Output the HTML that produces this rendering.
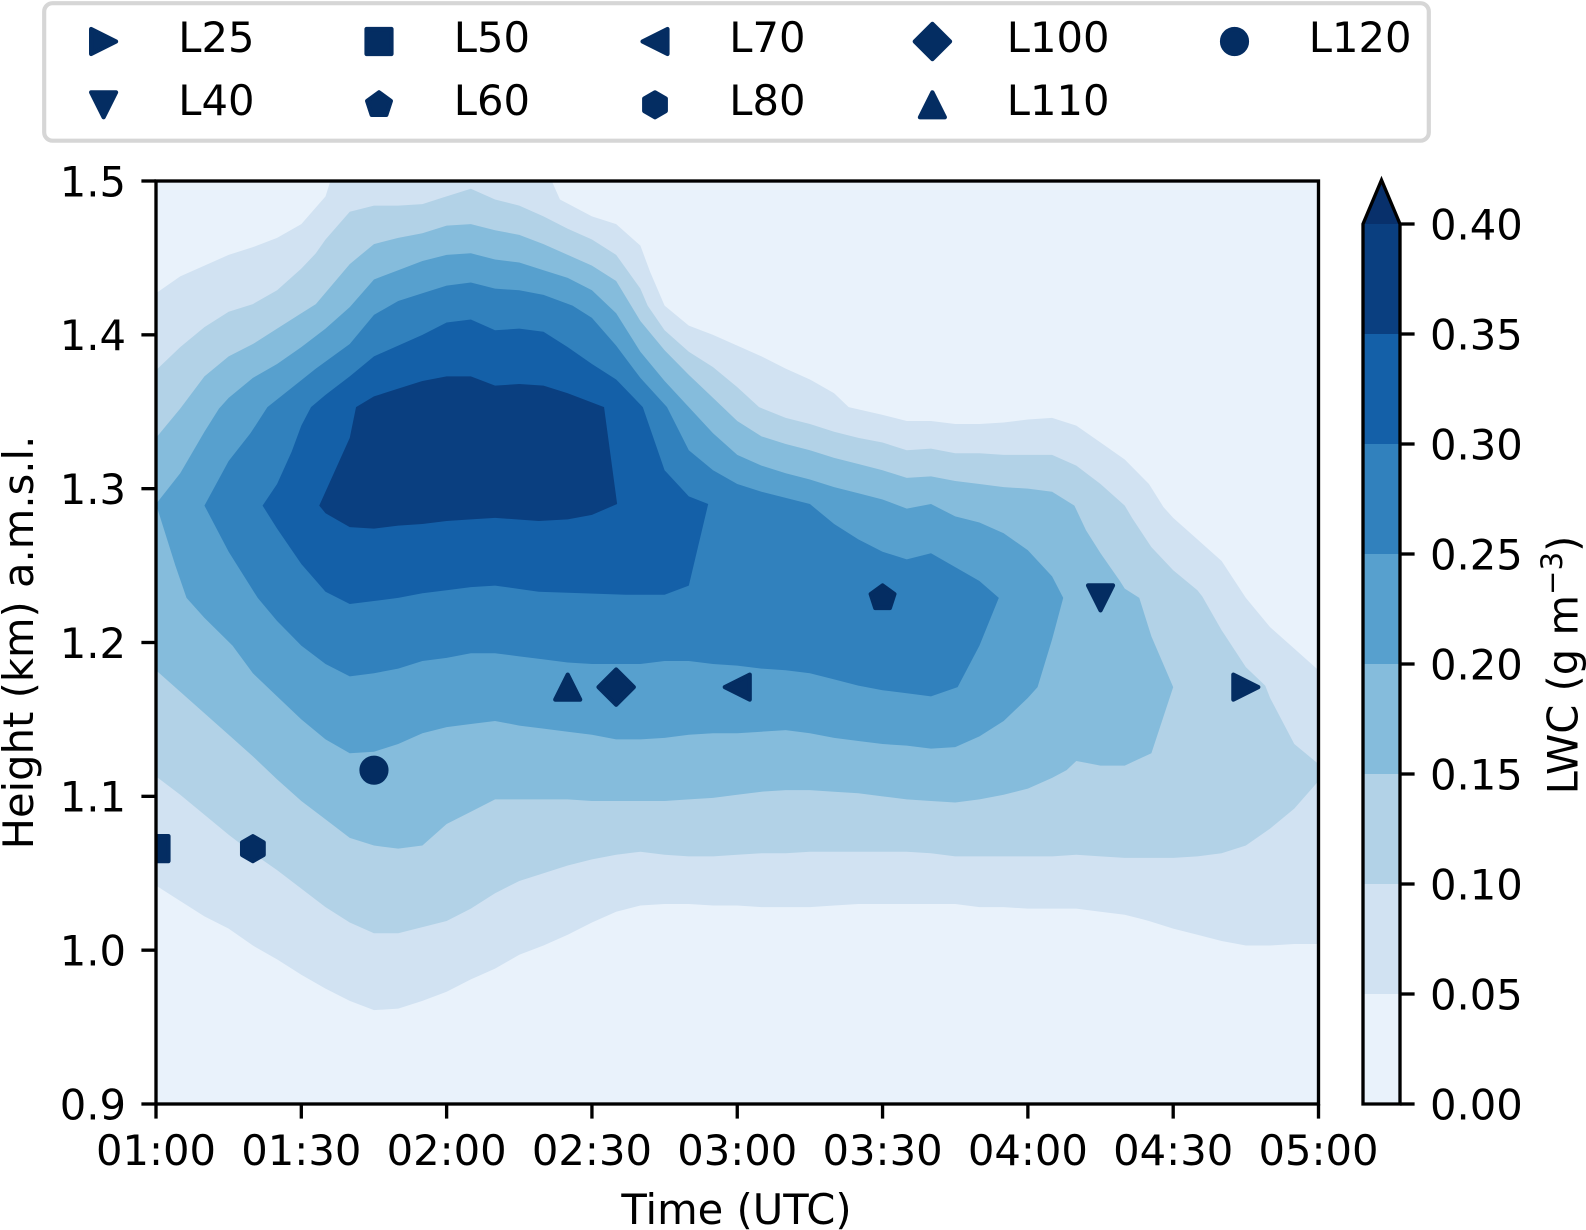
<!DOCTYPE html>
<html lang="en">
<head>
<meta charset="utf-8">
<title>LWC contour chart</title>
<style>
html,body{margin:0;padding:0;background:#fff;width:1586px;height:1230px;overflow:hidden}
svg{display:block}
text{font-family:"DejaVu Sans","Liberation Sans",sans-serif;font-size:41.67px;fill:#000}
</style>
</head>
<body>
<svg id="chart" xmlns="http://www.w3.org/2000/svg" width="1586" height="1230" viewBox="0 0 1586 1230">
  <defs>
    <clipPath id="axes-clip"><rect x="156" y="181" width="1162.5" height="923"/></clipPath>
  </defs>
  <rect x="0" y="0" width="1586" height="1230" fill="#fff"/>

  <g id="contours" clip-path="url(#axes-clip)"></g>
  <g id="markers" clip-path="url(#axes-clip)"></g>
  <rect x="156" y="181" width="1162.5" height="923" fill="none" stroke="#000" stroke-width="3.33"/>
  <g id="x-ticks"></g>
  <g id="y-ticks"></g>
  <text x="736.5" y="1224" text-anchor="middle">Time (UTC)</text>
  <text x="33" y="642.5" text-anchor="middle" transform="rotate(-90 33 642.5)">Height (km) a.m.s.l.</text>

  <g id="colorbar"></g>
  <text x="1577.5" y="665" text-anchor="middle" transform="rotate(-90 1577.5 665)">LWC (g m<tspan dy="-15.5" font-size="29.2" style="font-size:29.2px">−3</tspan><tspan dy="15.5">)</tspan></text>

  <g>
    <rect x="44.2" y="3.2" width="1384.6" height="137.5" rx="8.3" ry="8.3" fill="#fff" stroke="#d6d6d6" stroke-width="4.17"/>
    <g id="legend-entries"></g>
  </g>
</svg>
<script>
// ---- chart data: contour outlines as [minutes after 01:00, height km] ----
const contour005 = [[0,1.427],[5,1.438],[10,1.445],[15,1.452],[20,1.457],[25,1.463],[30,1.472],[32.5,1.481],[35,1.490],[36,1.5],[81.7,1.5],[83.4,1.488],[90,1.477],[95,1.472],[100,1.458],[102,1.441],[105,1.419],[110,1.406],[115,1.400],[120,1.393],[125,1.386],[130,1.378],[135,1.371],[140,1.362],[143,1.353],[150,1.348],[155,1.344],[160,1.344],[165,1.342],[170,1.342],[175,1.343],[180,1.345],[185,1.346],[190,1.341],[195,1.330],[200,1.319],[205,1.303],[208,1.288],[210,1.281],[215,1.267],[220,1.253],[225,1.229],[230,1.210],[235,1.196],[240,1.182],[240,1.004],[235,1.004],[230,1.003],[225,1.003],[220,1.006],[215,1.010],[210,1.014],[205,1.019],[200,1.023],[195,1.025],[190,1.027],[185,1.027],[180,1.027],[175,1.028],[170,1.028],[165,1.030],[160,1.030],[155,1.030],[150,1.030],[145,1.030],[140,1.029],[135,1.028],[130,1.028],[125,1.028],[120,1.029],[115,1.029],[110,1.030],[105,1.030],[100,1.029],[95,1.025],[90,1.018],[85,1.010],[80,1.003],[75,0.997],[70,0.988],[65,0.981],[60,0.973],[55,0.967],[50,0.962],[45,0.961],[40,0.967],[35,0.975],[30,0.984],[25,0.994],[20,1.003],[15,1.014],[10,1.022],[5,1.032],[0,1.042]];
const contour010 = [[0,1.377],[5,1.392],[10,1.405],[15,1.415],[20,1.420],[25,1.429],[30,1.443],[33,1.453],[35,1.462],[40,1.480],[45,1.484],[50,1.484],[55,1.485],[59,1.489],[65,1.495],[70,1.488],[75,1.484],[80,1.477],[85,1.469],[90,1.462],[95,1.452],[100,1.430],[101.5,1.419],[105,1.403],[110,1.389],[115,1.379],[120,1.366],[124.5,1.353],[130,1.346],[135,1.342],[140,1.337],[145,1.333],[150,1.330],[155,1.325],[160,1.326],[165,1.323],[170,1.323],[175,1.322],[180,1.322],[185,1.322],[190,1.315],[195,1.303],[200,1.289],[201.5,1.281],[205.5,1.262],[210,1.247],[215,1.234],[216,1.230],[220,1.208],[225,1.184],[229,1.172],[230,1.164],[235,1.134],[240,1.121],[240,1.110],[235,1.092],[230,1.079],[225,1.068],[220,1.063],[215,1.061],[210,1.060],[205,1.060],[200,1.060],[195,1.061],[190,1.062],[185,1.061],[180,1.061],[175,1.061],[170,1.061],[165,1.061],[160,1.063],[155,1.064],[150,1.064],[145,1.064],[140,1.064],[135,1.064],[130,1.063],[125,1.063],[120,1.062],[115,1.061],[110,1.061],[105,1.062],[100,1.064],[95,1.062],[90,1.059],[85,1.055],[80,1.050],[75,1.045],[70,1.037],[65,1.027],[60,1.019],[55,1.015],[50,1.011],[45,1.011],[40,1.018],[35,1.028],[30,1.040],[25,1.052],[20,1.063],[15,1.075],[10,1.088],[5,1.101],[0,1.113]];
const contour015 = [[0,1.333],[5,1.352],[10,1.373],[15,1.386],[20,1.394],[25,1.404],[30,1.414],[33,1.420],[40,1.446],[45,1.459],[50,1.463],[55,1.466],[60,1.471],[65,1.472],[70,1.468],[75,1.465],[80,1.459],[85,1.452],[90,1.445],[95,1.435],[100,1.409],[105,1.390],[110,1.374],[115,1.359],[120,1.344],[125,1.334],[130,1.329],[135,1.325],[140,1.320],[145,1.316],[150,1.312],[155,1.307],[160,1.308],[165,1.305],[170,1.303],[175,1.301],[180,1.300],[185,1.298],[189.6,1.289],[192,1.273],[195,1.258],[199,1.240],[200,1.235],[203,1.229],[205.5,1.204],[210,1.171],[205.5,1.128],[200,1.120],[195,1.120],[190,1.123],[188,1.117],[185,1.112],[180,1.105],[175,1.101],[170,1.098],[165,1.096],[160,1.097],[155,1.098],[150,1.100],[145,1.102],[140,1.103],[135,1.104],[130,1.104],[125,1.103],[120,1.101],[115,1.099],[110,1.098],[105,1.097],[100,1.097],[95,1.097],[90,1.097],[85,1.098],[80,1.098],[75,1.098],[70,1.098],[65,1.090],[60,1.082],[55,1.068],[50,1.066],[45,1.068],[40,1.073],[35,1.085],[30,1.097],[25,1.111],[20,1.126],[15,1.140],[10,1.154],[5,1.168],[0,1.182]];
const contour020 = [[0,1.290],[5,1.310],[10,1.337],[13,1.352],[15,1.359],[20,1.372],[25,1.381],[30,1.392],[35,1.404],[40,1.418],[45,1.436],[50,1.442],[55,1.448],[60,1.452],[65,1.453],[70,1.449],[75,1.447],[80,1.442],[85,1.437],[90,1.429],[95,1.414],[100,1.389],[105,1.370],[110,1.353],[115,1.336],[120,1.322],[125,1.315],[130,1.310],[135,1.306],[140,1.301],[145,1.297],[150,1.293],[155,1.287],[160,1.290],[165,1.282],[170,1.278],[175,1.271],[180,1.260],[185,1.243],[187.3,1.229],[185,1.202],[182,1.171],[180,1.164],[175,1.149],[170,1.139],[165,1.132],[160,1.131],[155,1.133],[150,1.134],[145,1.136],[140,1.138],[135,1.141],[130,1.143],[125,1.142],[120,1.141],[115,1.141],[110,1.140],[105,1.138],[100,1.137],[95,1.137],[90,1.140],[85,1.142],[80,1.144],[75,1.146],[70,1.149],[65,1.147],[60,1.145],[55,1.141],[50,1.134],[45,1.129],[40,1.128],[35,1.137],[30,1.150],[25,1.165],[20,1.180],[15.8,1.198],[10,1.216],[6.3,1.229],[4,1.250]];
const contour025 = [[10,1.289],[15,1.318],[19.5,1.336],[23,1.353],[33,1.378],[40,1.394],[45,1.413],[50,1.422],[55,1.427],[60,1.432],[65,1.434],[70,1.430],[75,1.429],[80,1.426],[86,1.419],[90,1.411],[95,1.393],[100,1.372],[105.5,1.353],[110,1.325],[115,1.312],[120,1.303],[125,1.298],[130,1.294],[135,1.290],[140,1.277],[145,1.267],[150,1.259],[155,1.254],[160,1.258],[165,1.249],[170,1.240],[174,1.229],[170,1.198],[165.5,1.171],[160,1.165],[155,1.167],[150,1.169],[145,1.172],[140,1.176],[135,1.180],[130,1.182],[125,1.183],[120,1.185],[115,1.186],[110,1.188],[105,1.188],[100,1.186],[95,1.186],[90,1.186],[85,1.187],[80,1.189],[75,1.191],[70,1.193],[65,1.193],[60,1.190],[55,1.188],[50,1.183],[45,1.180],[40,1.178],[35,1.186],[30,1.198],[25,1.214],[21,1.229],[15,1.259]];
const contour030 = [[22,1.289],[25,1.303],[28,1.324],[30,1.341],[32,1.353],[35,1.361],[40,1.373],[45,1.386],[50,1.393],[55,1.400],[60,1.408],[65,1.410],[70,1.403],[75,1.404],[80,1.402],[85,1.392],[90,1.381],[95,1.371],[100.5,1.353],[105,1.312],[110,1.295],[114,1.290],[110,1.237],[105,1.231],[97,1.231],[88,1.232],[79,1.233],[70,1.237],[65,1.236],[60,1.234],[55,1.232],[50,1.229],[45,1.227],[40,1.225],[35,1.233],[30,1.251],[25,1.274]];
const contour035 = [[33.7,1.289],[40,1.333],[41.3,1.353],[45,1.360],[50,1.365],[55,1.370],[60,1.373],[65,1.373],[70,1.367],[75,1.368],[80,1.367],[85,1.362],[92.5,1.353],[95.2,1.290],[90,1.283],[85,1.280],[79,1.279],[70,1.281],[65,1.280],[60,1.279],[55,1.277],[50,1.276],[45,1.274],[40,1.275],[35,1.284]];

const timeTickMinutes = [0,30,60,90,120,150,180,210,240];
const timeTickLabels = ['01:00','01:30','02:00','02:30','03:00','03:30','04:00','04:30','05:00'];
const heightTicks = [0.9,1.0,1.1,1.2,1.3,1.4,1.5];
const heightTickLabels = ['0.9','1.0','1.1','1.2','1.3','1.4','1.5'];
const lwcTicks = [0,0.05,0.10,0.15,0.20,0.25,0.30,0.35,0.40];
const lwcTickLabels = ['0.00','0.05','0.10','0.15','0.20','0.25','0.30','0.35','0.40'];

const legNames = ['L25','L40','L50','L60','L70','L80','L100','L110','L120'];
const legMinutes = [225,195,0,150,120,20,95,85,45];
const legHeights = [1.171,1.229,1.066,1.229,1.171,1.066,1.171,1.171,1.117];

// ---- styling ----
const bandColors = ['#e9f2fb','#d1e2f2','#b2d2e7','#85bcdc','#57a0ce','#3181bd','#1460a8','#0a3f80'];
const overColor = '#08306b';
const markerColor = '#042d62';
const markerKinds = ['right','down','square','pentagon','left','hexagon','diamond','up','circle'];

// ---- axis functions ----
const AX = {left:156, right:1318.5, top:181, bottom:1104};
function xScale(minutes){ return AX.left + (minutes/240)*(AX.right-AX.left); }
function yScale(km){ return AX.bottom - ((km-0.9)/0.6)*(AX.bottom-AX.top); }
const CB = {left:1363, right:1400, bottom:1104, top:224};
function cScale(v){ return CB.bottom - (v/0.4)*(CB.bottom-CB.top); }

const NS = 'http://www.w3.org/2000/svg';
function svgEl(tag){ return document.createElementNS(NS, tag); }
function polyPoints(pairs){ return pairs.map(p => xScale(p[0]).toFixed(2)+','+yScale(p[1]).toFixed(2)).join(' '); }

// ---- contours ----
const contourGroup = document.getElementById('contours');
const background = svgEl('rect');


background.setAttribute('x', AX.left);
background.setAttribute('y', AX.top);
background.setAttribute('width', AX.right-AX.left);
background.setAttribute('height', AX.bottom-AX.top);
background.setAttribute('fill', bandColors[0]);
contourGroup.appendChild(background);
[contour005,contour010,contour015,contour020,contour025,contour030,contour035].forEach((outline,i)=>{
  const poly = svgEl('polygon');
  
  
  poly.setAttribute('points', polyPoints(outline));
  poly.setAttribute('fill', bandColors[i+1]);
  contourGroup.appendChild(poly);
});

// ---- markers ----
const R = 12.5;
function regularPolygon(n){
  const pts = [];
  for(let k=0;k<n;k++){
    const a = -Math.PI/2 + k*2*Math.PI/n;
    pts.push((R*Math.cos(a)).toFixed(2)+','+(R*Math.sin(a)).toFixed(2));
  }
  return 'M'+pts.join('L')+'Z';
}
const D = 17.68;
const markerPaths = {
  right:`M${R},0L${-R},${-R}L${-R},${R}Z`,
  left:`M${-R},0L${R},${-R}L${R},${R}Z`,
  up:`M0,${-R}L${-R},${R}L${R},${R}Z`,
  down:`M0,${R}L${-R},${-R}L${R},${-R}Z`,
  square:`M${-R},${-R}H${R}V${R}H${-R}Z`,
  diamond:`M0,${-D}L${D},0L0,${D}L${-D},0Z`,
  pentagon:regularPolygon(5),
  hexagon:regularPolygon(6),
  circle:`M${-R},0A${R},${R} 0 1 0 ${R},0A${R},${R} 0 1 0 ${-R},0Z`
};
function markerPath(kind,cx,cy){
  const m = svgEl('path');
  m.setAttribute('d', markerPaths[kind]);
  m.setAttribute('transform', `translate(${cx.toFixed(2)} ${cy.toFixed(2)})`);
  m.setAttribute('fill', markerColor);
  m.setAttribute('stroke', markerColor);
  m.setAttribute('stroke-width', '4.17');
  m.setAttribute('stroke-linejoin', 'round');
  return m;
}
const markerGroup = document.getElementById('markers');
legNames.forEach((name,i)=>{
  const m = markerPath(markerKinds[i], xScale(legMinutes[i]), yScale(legHeights[i]));
  
  
  markerGroup.appendChild(m);
});

// ---- legend ----
const legendColMarkerX = [103.6,379,655,932.4,1234.5];
const legendColTextX = [178.3,453.8,729.3,1006.8,1308.8];
const legendRowMarkerY = [41.5,104.8];
const legendRowTextY = [51.8,114.8];
const legendGroup = document.getElementById('legend-entries');
legNames.forEach((name,i)=>{
  const col = Math.floor(i/2), row = i%2;
  const m = markerPath(markerKinds[i], legendColMarkerX[col], legendRowMarkerY[row]);
  
  
  legendGroup.appendChild(m);
  const t = svgEl('text');
  
  
  t.setAttribute('x', legendColTextX[col]);
  t.setAttribute('y', legendRowTextY[row]);
  t.textContent = name;
  legendGroup.appendChild(t);
});

// ---- ticks ----
const TICK = 14.6, PAD = 14.6;
function tickLine(x1,y1,x2,y2){
  const l = svgEl('line');
  l.setAttribute('x1', x1); l.setAttribute('y1', y1);
  l.setAttribute('x2', x2); l.setAttribute('y2', y2);
  l.setAttribute('stroke', '#000');
  l.setAttribute('stroke-width', '3.33');
  return l;
}
const xTicks = document.getElementById('x-ticks');
timeTickMinutes.forEach((m,i)=>{
  const x = xScale(m);
  const l = tickLine(x,AX.bottom,x,AX.bottom+TICK);
  
  
  xTicks.appendChild(l);
  const t = svgEl('text');
  
  
  t.setAttribute('x', x);
  t.setAttribute('y', 1165);
  t.setAttribute('text-anchor', 'middle');
  t.textContent = timeTickLabels[i];
  xTicks.appendChild(t);
});
const yTicks = document.getElementById('y-ticks');
heightTicks.forEach((h,i)=>{
  const y = yScale(h);
  const l = tickLine(AX.left-TICK,y,AX.left,y);
  
  
  yTicks.appendChild(l);
  const t = svgEl('text');
  
  
  t.setAttribute('x', AX.left-TICK-PAD-0.8);
  t.setAttribute('y', y+15.3);
  t.setAttribute('text-anchor', 'end');
  t.textContent = heightTickLabels[i];
  yTicks.appendChild(t);
});

// ---- colorbar ----
const cbGroup = document.getElementById('colorbar');
bandColors.forEach((color,i)=>{
  const r = svgEl('rect');
  
  
  r.setAttribute('x', CB.left);
  r.setAttribute('y', cScale(lwcTicks[i+1]));
  r.setAttribute('width', CB.right-CB.left);
  r.setAttribute('height', cScale(lwcTicks[i])-cScale(lwcTicks[i+1]));
  r.setAttribute('fill', color);
  cbGroup.appendChild(r);
});
const cbMid = (CB.left+CB.right)/2, cbApex = CB.top-44;
const over = svgEl('polygon');


over.setAttribute('points', `${CB.left},${CB.top} ${cbMid},${cbApex} ${CB.right},${CB.top}`);
over.setAttribute('fill', overColor);
cbGroup.appendChild(over);
const outline = svgEl('polygon');


outline.setAttribute('points', `${CB.left},${CB.bottom} ${CB.left},${CB.top} ${cbMid},${cbApex} ${CB.right},${CB.top} ${CB.right},${CB.bottom}`);
outline.setAttribute('fill', 'none');
outline.setAttribute('stroke', '#000');
outline.setAttribute('stroke-width', '3.33');
cbGroup.appendChild(outline);
lwcTicks.forEach((v,i)=>{
  const y = cScale(v);
  const l = tickLine(CB.right,y,CB.right+TICK,y);
  
  
  cbGroup.appendChild(l);
  const t = svgEl('text');
  
  
  t.setAttribute('x', CB.right+TICK+PAD+0.8);
  t.setAttribute('y', y+15.3);
  t.textContent = lwcTickLabels[i];
  cbGroup.appendChild(t);
});
</script>
</body>
</html>
